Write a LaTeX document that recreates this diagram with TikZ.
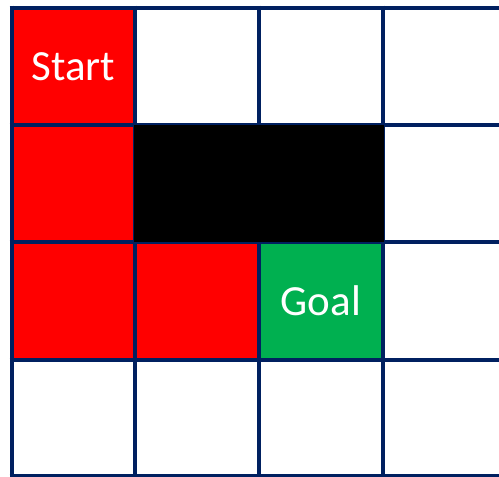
\documentclass[tikz,border=0pt]{standalone}
\usepackage{fontspec}
\setmainfont{Carlito}
\definecolor{gridnavy}{HTML}{002060}
\definecolor{cellred}{HTML}{FF0000}
\definecolor{cellgreen}{HTML}{00B050}
\tikzset{
  gridline/.style={draw=gridnavy, line width=4pt},
  redcell/.style={fill=cellred},
  label/.style={text=white, font=\fontsize{43}{50}\selectfont, inner sep=0pt}
}
\begin{document}
\begin{tikzpicture}[x=1pt,y=-1pt]
\useasboundingbox (0,0) rectangle (499,477);
% coloured cells
\fill[redcell] (11.5,7.5) rectangle (135,125);
\fill[redcell] (11.5,125) rectangle (135,242);
\fill[redcell] (11.5,242) rectangle (135,359.5);
\fill[redcell] (135,242) rectangle (259,359.5);
\fill[cellgreen] (259,242) rectangle (382.5,359.5);
% grid lines
\foreach \x in {11.5,135,259,382.5} \draw[gridline] (\x,5.5) -- (\x,478);
\foreach \y in {7.5,125,242,359.5,476} \draw[gridline] (9.5,\y) -- (510,\y);
% obstacle
\fill[black] (134,124.5) rectangle (384,241.5);
% labels
\node[label] (start) at (73.5,67) {Start};
\node[label] (goal) at (320.75,300.5) {Goal};
\end{tikzpicture}
\end{document}
